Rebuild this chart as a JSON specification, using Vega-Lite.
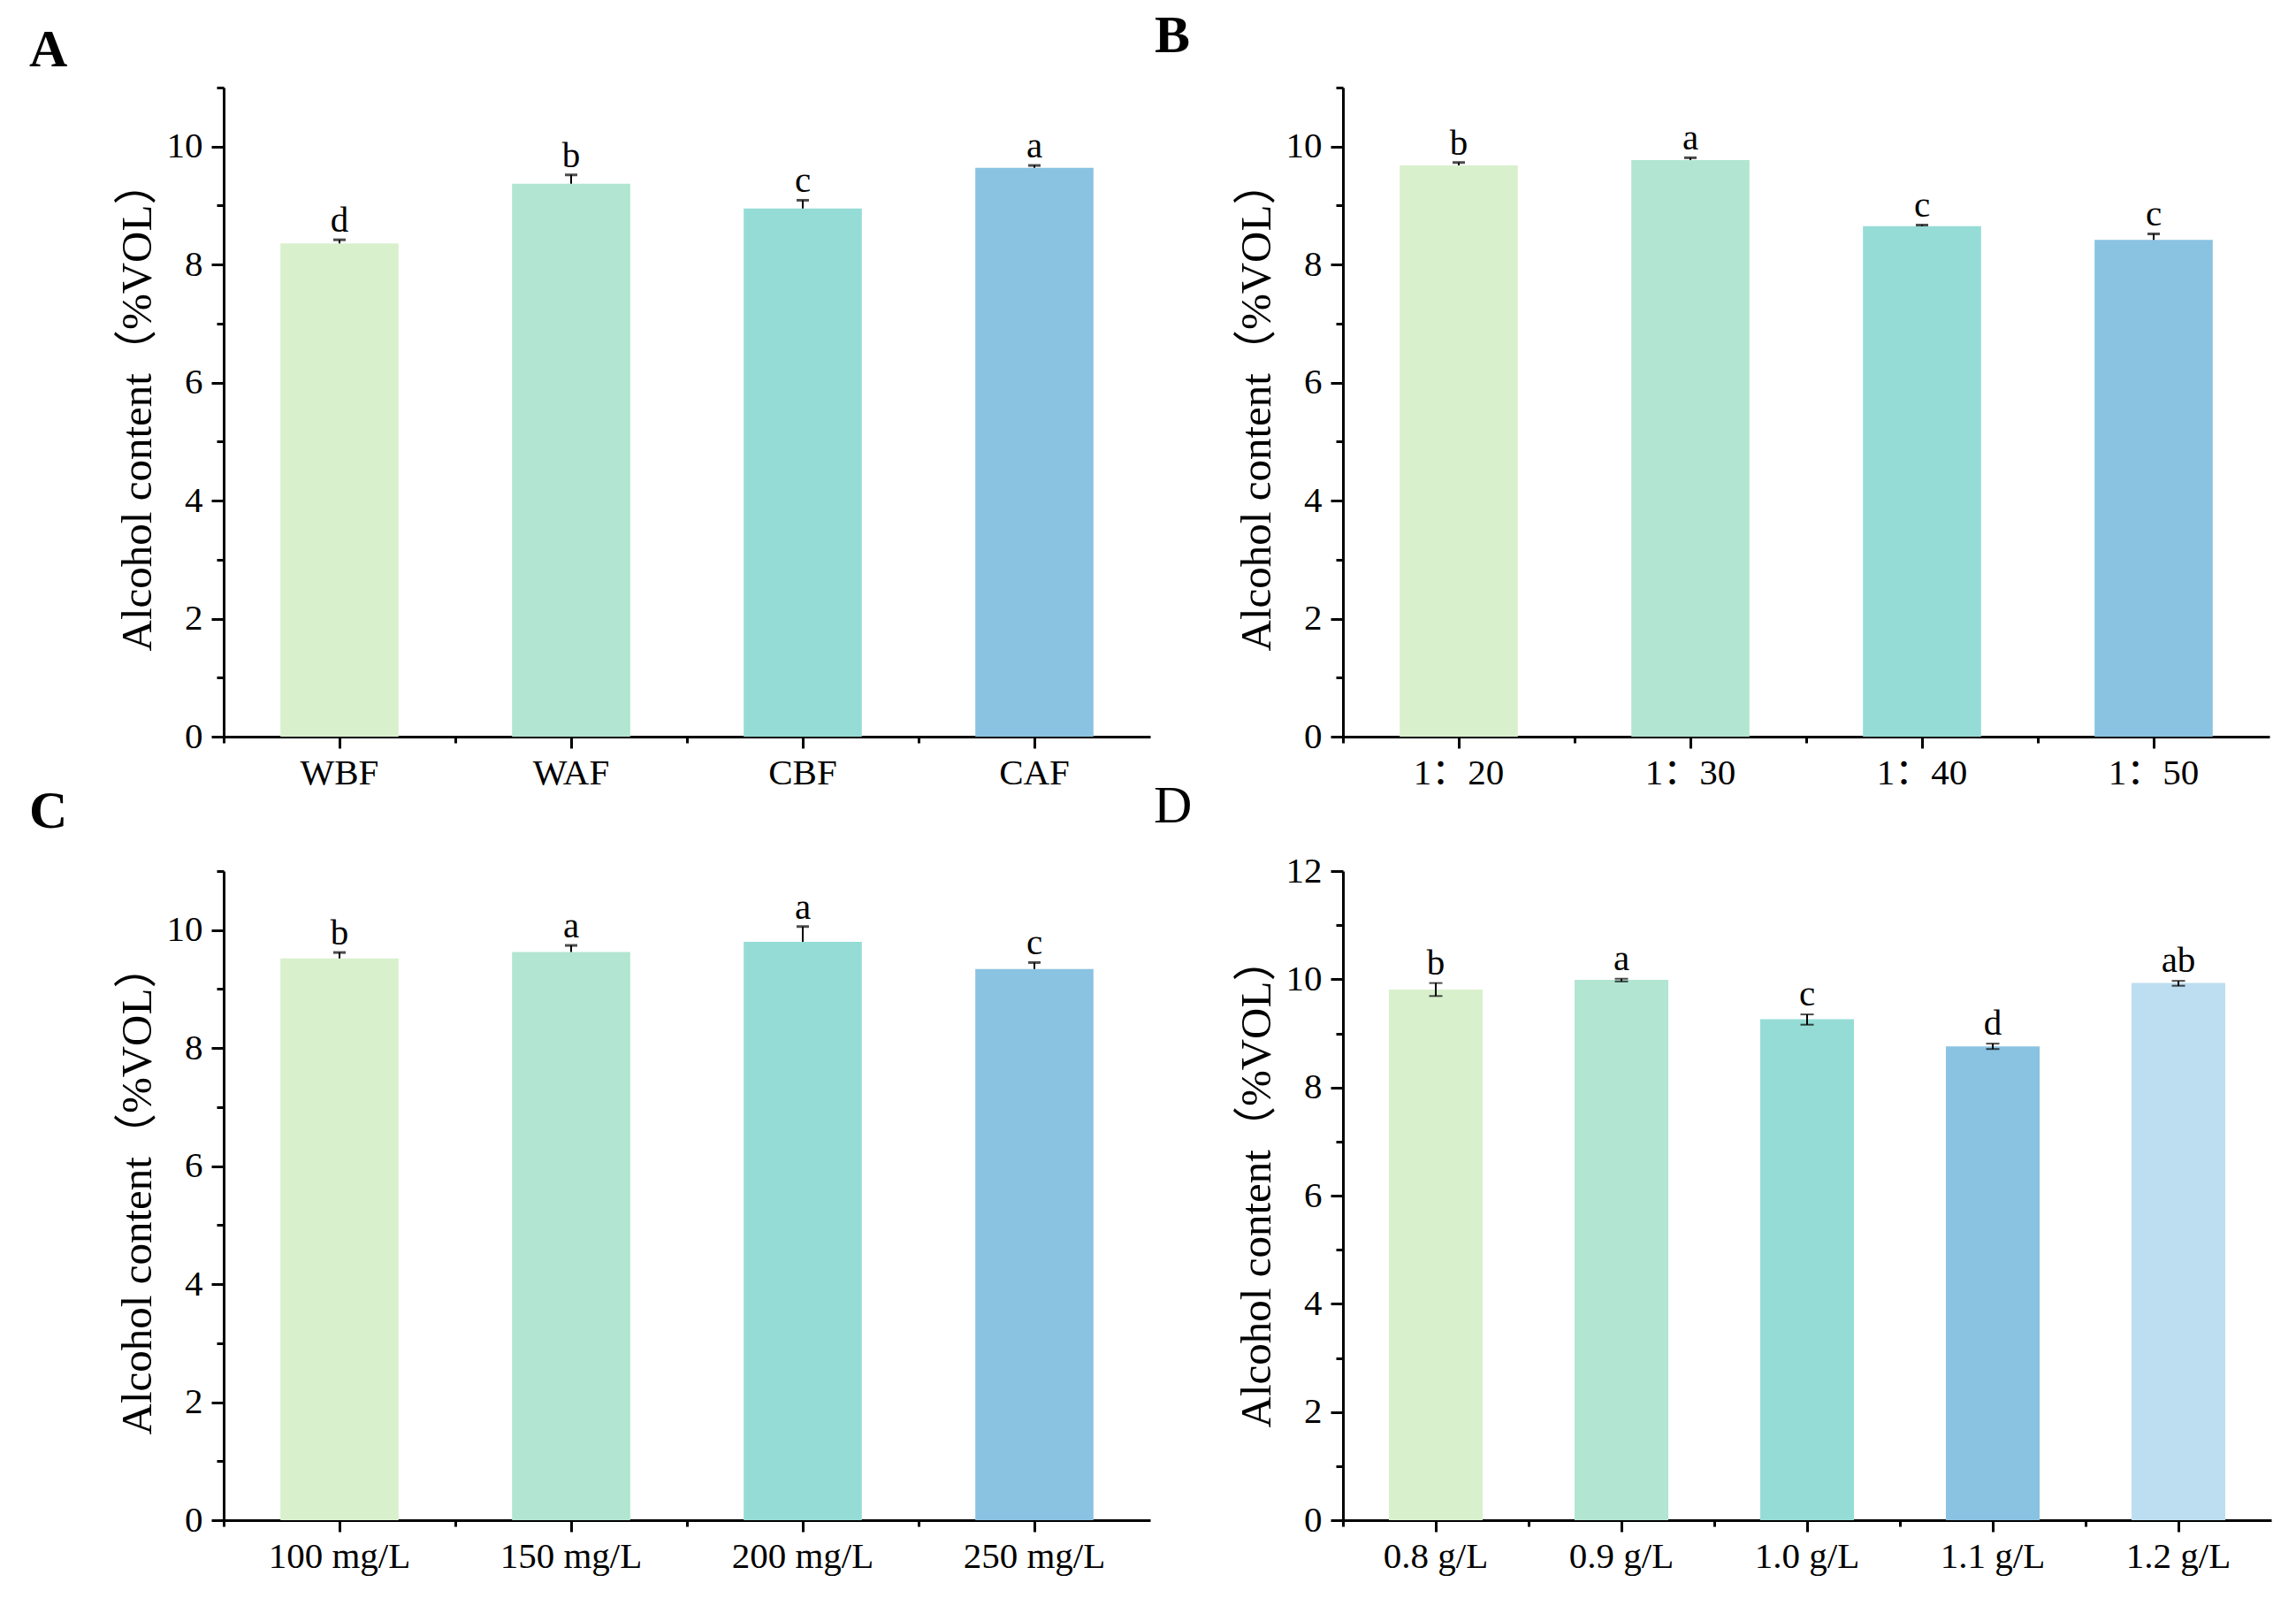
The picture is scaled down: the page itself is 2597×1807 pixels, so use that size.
{
  "$schema": "https://vega.github.io/schema/vega-lite/v6.json",
  "padding": {"left": 33, "top": 10, "right": 10, "bottom": 10},
  "columns": 2,
  "spacing": {"row": 152, "column": 218},
  "bounds": "flush",
  "resolve": {"scale": {"color": "independent"}},
  "config": {
    "view": {"stroke": null},
    "axis": {"grid": false, "domainColor": "#000", "domainWidth": 3, "tickColor": "#000", "tickWidth": 3, "labelColor": "#000", "labelFont": "Liberation Serif, Noto Sans CJK SC", "labelFontSize": 41, "titleFont": "Liberation Serif, Noto Sans CJK SC", "titleFontSize": 49, "titleFontWeight": "normal", "titleColor": "#000"},
    "axisX": {"labelAngle": 0, "tickSize": 13, "labelPadding": 8},
    "axisY": {"labelPadding": 10, "labelFlush": false}
  },
  "concat": [
    {
      "width": 1048, "height": 734,
      "title": {"text": "A", "anchor": "start", "frame": "group", "offset": 0, "dx": -220, "dy": 37, "baseline": "alphabetic", "fontSize": 60, "fontWeight": "bold", "font": "Liberation Serif", "color": "#000"},
      "data": {"values": [
        {"group": "WBF", "value": 8.36, "lo": 8.36, "hi": 8.42, "letter": "d"},
        {"group": "WAF", "value": 9.37, "lo": 9.37, "hi": 9.52, "letter": "b"},
        {"group": "CBF", "value": 8.95, "lo": 8.95, "hi": 9.09, "letter": "c"},
        {"group": "CAF", "value": 9.64, "lo": 9.64, "hi": 9.68, "letter": "a"}
      ]},
      "resolve": {"axis": {"x": "independent", "y": "independent"}},
      "layer": [
        {"mark": {"type": "bar", "width": {"band": 0.51}},
         "encoding": {
           "x": {"field": "group", "type": "nominal", "sort": null, "scale": {"paddingInner": 0, "paddingOuter": 0}, "axis": {"title": null}},
           "y": {"field": "value", "type": "quantitative", "scale": {"domain": [0, 11], "nice": false}, "axis": {"values": [0,2,4,6,8,10], "tickSize": 14, "title": "Alcohol content（%VOL）", "titleX": -98, "titleY": 360, "titleAngle": -90, "titleAlign": "center", "titleBaseline": "middle"}},
           "color": {"field": "group", "type": "nominal", "sort": null, "scale": {"domain": ["WBF","WAF","CBF","CAF"], "range": ["#D9F0CD","#B2E5D2","#96DCD6","#8AC2E2"]}, "legend": null}
         }},
        {"mark": {"type": "rule", "strokeWidth": 2, "color": "#000"},
         "encoding": {
           "x": {"field": "group", "type": "nominal", "sort": null, "axis": {"bandPosition": 0, "labels": false, "domain": false, "tickSize": 7, "orient": "bottom", "title": null}},
           "y": {"field": "lo", "type": "quantitative", "scale": {"domain": [0, 11], "nice": false}, "axis": {"values": [1,3,5,7,9,11], "labels": false, "domain": false, "tickSize": 8, "orient": "left", "title": null}},
           "y2": {"field": "hi"}
         }},
        {"mark": {"type": "tick", "color": "#000", "thickness": 3, "size": 14},
         "encoding": {
           "x": {"field": "group", "type": "nominal", "sort": null, "axis": null},
           "y": {"field": "hi", "type": "quantitative", "scale": {"domain": [0, 11], "nice": false}, "axis": null}
         }},
        {"mark": {"type": "text", "dy": -9, "baseline": "alphabetic", "fontSize": 41, "font": "Liberation Serif", "color": "#000"},
         "encoding": {
           "x": {"field": "group", "type": "nominal", "sort": null, "axis": null},
           "y": {"field": "hi", "type": "quantitative", "scale": {"domain": [0, 11], "nice": false}, "axis": null},
           "text": {"field": "letter"}
         }}
      ]
    },
    {
      "width": 1048, "height": 734,
      "title": {"text": "B", "anchor": "start", "frame": "group", "offset": 0, "dx": -213, "dy": 21, "baseline": "alphabetic", "fontSize": 60, "fontWeight": "bold", "font": "Liberation Serif", "color": "#000"},
      "data": {"values": [
        {"group": "1：20", "value": 9.68, "lo": 9.68, "hi": 9.73, "letter": "b"},
        {"group": "1：30", "value": 9.77, "lo": 9.77, "hi": 9.81, "letter": "a"},
        {"group": "1：40", "value": 8.65, "lo": 8.65, "hi": 8.67, "letter": "c"},
        {"group": "1：50", "value": 8.42, "lo": 8.42, "hi": 8.52, "letter": "c"}
      ]},
      "resolve": {"axis": {"x": "independent", "y": "independent"}},
      "layer": [
        {"mark": {"type": "bar", "width": {"band": 0.51}},
         "encoding": {
           "x": {"field": "group", "type": "nominal", "sort": null, "scale": {"paddingInner": 0, "paddingOuter": 0}, "axis": {"title": null}},
           "y": {"field": "value", "type": "quantitative", "scale": {"domain": [0, 11], "nice": false}, "axis": {"values": [0,2,4,6,8,10], "tickSize": 14, "title": "Alcohol content（%VOL）", "titleX": -98, "titleY": 360, "titleAngle": -90, "titleAlign": "center", "titleBaseline": "middle"}},
           "color": {"field": "group", "type": "nominal", "sort": null, "scale": {"domain": ["1：20","1：30","1：40","1：50"], "range": ["#D9F0CD","#B2E5D2","#96DCD6","#8AC2E2"]}, "legend": null}
         }},
        {"mark": {"type": "rule", "strokeWidth": 2, "color": "#000"},
         "encoding": {
           "x": {"field": "group", "type": "nominal", "sort": null, "axis": {"bandPosition": 0, "labels": false, "domain": false, "tickSize": 7, "orient": "bottom", "title": null}},
           "y": {"field": "lo", "type": "quantitative", "scale": {"domain": [0, 11], "nice": false}, "axis": {"values": [1,3,5,7,9,11], "labels": false, "domain": false, "tickSize": 8, "orient": "left", "title": null}},
           "y2": {"field": "hi"}
         }},
        {"mark": {"type": "tick", "color": "#000", "thickness": 3, "size": 14},
         "encoding": {
           "x": {"field": "group", "type": "nominal", "sort": null, "axis": null},
           "y": {"field": "hi", "type": "quantitative", "scale": {"domain": [0, 11], "nice": false}, "axis": null}
         }},
        {"mark": {"type": "text", "dy": -9, "baseline": "alphabetic", "fontSize": 41, "font": "Liberation Serif", "color": "#000"},
         "encoding": {
           "x": {"field": "group", "type": "nominal", "sort": null, "axis": null},
           "y": {"field": "hi", "type": "quantitative", "scale": {"domain": [0, 11], "nice": false}, "axis": null},
           "text": {"field": "letter"}
         }}
      ]
    },
    {
      "width": 1048, "height": 734,
      "title": {"text": "C", "anchor": "start", "frame": "group", "offset": 0, "dx": -220, "dy": 12, "baseline": "alphabetic", "fontSize": 60, "fontWeight": "bold", "font": "Liberation Serif", "color": "#000"},
      "data": {"values": [
        {"group": "100 mg/L", "value": 9.52, "lo": 9.52, "hi": 9.62, "letter": "b"},
        {"group": "150 mg/L", "value": 9.63, "lo": 9.63, "hi": 9.74, "letter": "a"},
        {"group": "200 mg/L", "value": 9.80, "lo": 9.80, "hi": 10.06, "letter": "a"},
        {"group": "250 mg/L", "value": 9.34, "lo": 9.34, "hi": 9.45, "letter": "c"}
      ]},
      "resolve": {"axis": {"x": "independent", "y": "independent"}},
      "layer": [
        {"mark": {"type": "bar", "width": {"band": 0.51}},
         "encoding": {
           "x": {"field": "group", "type": "nominal", "sort": null, "scale": {"paddingInner": 0, "paddingOuter": 0}, "axis": {"title": null}},
           "y": {"field": "value", "type": "quantitative", "scale": {"domain": [0, 11], "nice": false}, "axis": {"values": [0,2,4,6,8,10], "tickSize": 14, "title": "Alcohol content（%VOL）", "titleX": -98, "titleY": 360, "titleAngle": -90, "titleAlign": "center", "titleBaseline": "middle"}},
           "color": {"field": "group", "type": "nominal", "sort": null, "scale": {"domain": ["100 mg/L","150 mg/L","200 mg/L","250 mg/L"], "range": ["#D9F0CD","#B2E5D2","#96DCD6","#8AC2E2"]}, "legend": null}
         }},
        {"mark": {"type": "rule", "strokeWidth": 2, "color": "#000"},
         "encoding": {
           "x": {"field": "group", "type": "nominal", "sort": null, "axis": {"bandPosition": 0, "labels": false, "domain": false, "tickSize": 7, "orient": "bottom", "title": null}},
           "y": {"field": "lo", "type": "quantitative", "scale": {"domain": [0, 11], "nice": false}, "axis": {"values": [1,3,5,7,9,11], "labels": false, "domain": false, "tickSize": 8, "orient": "left", "title": null}},
           "y2": {"field": "hi"}
         }},
        {"mark": {"type": "tick", "color": "#000", "thickness": 3, "size": 14},
         "encoding": {
           "x": {"field": "group", "type": "nominal", "sort": null, "axis": null},
           "y": {"field": "hi", "type": "quantitative", "scale": {"domain": [0, 11], "nice": false}, "axis": null}
         }},
        {"mark": {"type": "text", "dy": -9, "baseline": "alphabetic", "fontSize": 41, "font": "Liberation Serif", "color": "#000"},
         "encoding": {
           "x": {"field": "group", "type": "nominal", "sort": null, "axis": null},
           "y": {"field": "hi", "type": "quantitative", "scale": {"domain": [0, 11], "nice": false}, "axis": null},
           "text": {"field": "letter"}
         }}
      ]
    },
    {
      "width": 1050, "height": 734,
      "title": {"text": "D", "anchor": "start", "frame": "group", "offset": 0, "dx": -214, "dy": 26, "baseline": "alphabetic", "fontSize": 60, "fontWeight": "normal", "font": "Liberation Serif", "color": "#000"},
      "data": {"values": [
        {"group": "0.8 g/L", "value": 9.81, "lo": 9.69, "hi": 9.93, "low": 9.69, "letter": "b"},
        {"group": "0.9 g/L", "value": 9.99, "lo": 9.96, "hi": 10.01, "low": 9.96, "letter": "a"},
        {"group": "1.0 g/L", "value": 9.26, "lo": 9.16, "hi": 9.35, "low": 9.16, "letter": "c"},
        {"group": "1.1 g/L", "value": 8.76, "lo": 8.71, "hi": 8.81, "low": 8.71, "letter": "d"},
        {"group": "1.2 g/L", "value": 9.93, "lo": 9.88, "hi": 9.97, "low": 9.88, "letter": "ab"}
      ]},
      "resolve": {"axis": {"x": "independent", "y": "independent"}},
      "layer": [
        {"mark": {"type": "bar", "width": {"band": 0.505}},
         "encoding": {
           "x": {"field": "group", "type": "nominal", "sort": null, "scale": {"paddingInner": 0, "paddingOuter": 0}, "axis": {"title": null}},
           "y": {"field": "value", "type": "quantitative", "scale": {"domain": [0, 12], "nice": false}, "axis": {"values": [0,2,4,6,8,10,12], "tickSize": 14, "title": "Alcohol content（%VOL）", "titleX": -98, "titleY": 352, "titleAngle": -90, "titleAlign": "center", "titleBaseline": "middle"}},
           "color": {"field": "group", "type": "nominal", "sort": null, "scale": {"domain": ["0.8 g/L","0.9 g/L","1.0 g/L","1.1 g/L","1.2 g/L"], "range": ["#D9F0CD","#B2E5D2","#96DCD6","#8AC2E2","#BDDEF0"]}, "legend": null}
         }},
        {"mark": {"type": "rule", "strokeWidth": 2, "color": "#000"},
         "encoding": {
           "x": {"field": "group", "type": "nominal", "sort": null, "axis": {"bandPosition": 0, "labels": false, "domain": false, "tickSize": 7, "orient": "bottom", "title": null}},
           "y": {"field": "lo", "type": "quantitative", "scale": {"domain": [0, 12], "nice": false}, "axis": {"values": [1,3,5,7,9,11], "labels": false, "domain": false, "tickSize": 8, "orient": "left", "title": null}},
           "y2": {"field": "hi"}
         }},
        {"mark": {"type": "tick", "color": "#000", "thickness": 2, "size": 15},
         "encoding": {
           "x": {"field": "group", "type": "nominal", "sort": null, "axis": null},
           "y": {"field": "hi", "type": "quantitative", "scale": {"domain": [0, 12], "nice": false}, "axis": null}
         }},
        {"mark": {"type": "tick", "color": "#000", "thickness": 2, "size": 15},
         "encoding": {
           "x": {"field": "group", "type": "nominal", "sort": null, "axis": null},
           "y": {"field": "low", "type": "quantitative", "scale": {"domain": [0, 12], "nice": false}, "axis": null}
         }},
        {"mark": {"type": "text", "dy": -10, "baseline": "alphabetic", "fontSize": 41, "font": "Liberation Serif", "color": "#000"},
         "encoding": {
           "x": {"field": "group", "type": "nominal", "sort": null, "axis": null},
           "y": {"field": "hi", "type": "quantitative", "scale": {"domain": [0, 12], "nice": false}, "axis": null},
           "text": {"field": "letter"}
         }}
      ]
    }
  ]
}
